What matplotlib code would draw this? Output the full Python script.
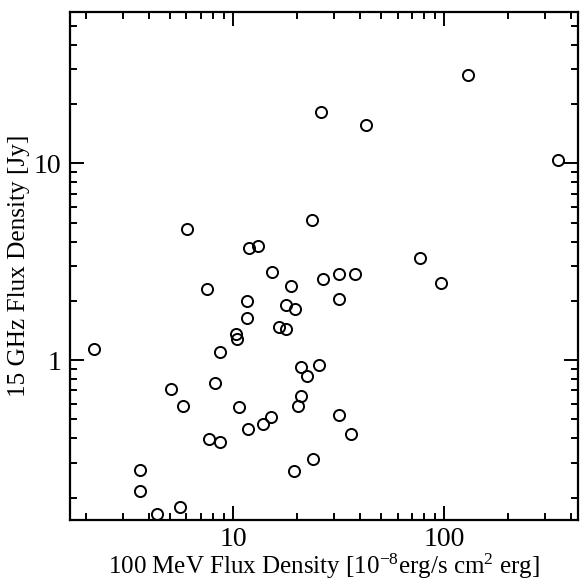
import matplotlib
matplotlib.use("agg")
import matplotlib.pyplot as plt
import matplotlib.ticker as ticker

plt.rcParams["font.family"] = ["Liberation Serif", "DejaVu Serif"]
plt.rcParams["mathtext.fontset"] = "custom"
plt.rcParams["mathtext.rm"] = "Liberation Serif"
plt.rcParams["mathtext.it"] = "Liberation Serif:italic"

# 100 MeV flux density (1e-8 erg/s cm^2 erg)
gamma_flux = [2.19, 6.05, 11.87, 13.14, 15.2, 7.53, 18.71, 11.65, 11.57, 10.30,
              10.44, 8.65, 5.05, 5.80, 8.19, 10.64, 13.78, 15.04, 11.78, 7.70,
              8.65, 3.60, 3.63, 4.35, 5.60, 19.40, 17.83, 19.50, 16.50, 17.83,
              20.86, 22.28, 20.82, 20.26, 25.53, 31.6, 36.0, 23.86, 31.8, 26.7,
              96.1, 76.7, 31.8, 37.6, 23.5, 25.96, 42.6, 129.9, 345.0]

# 15 GHz flux density (Jy)
radio_flux = [1.137, 4.65, 3.70, 3.81, 2.81, 2.30, 2.39, 2.00, 1.64, 1.356,
              1.274, 1.098, 0.710, 0.586, 0.764, 0.579, 0.473, 0.511, 0.446, 0.398,
              0.385, 0.277, 0.216, 0.164, 0.1785, 0.2727, 1.904, 1.81, 1.477, 1.432,
              0.925, 0.832, 0.658, 0.586, 0.943, 0.527, 0.420, 0.315, 2.04, 2.575,
              2.477, 3.31, 2.743, 2.743, 5.15, 18.3, 15.6, 28.1, 10.39]

fig = plt.figure(figsize=(5.8, 5.81), dpi=100, facecolor="white")
ax = fig.add_axes([70 / 580, 61 / 581, 508 / 580, 508 / 581])

ax.plot(gamma_flux, radio_flux, linestyle="none", marker="o", markersize=8,
        markerfacecolor="none", markeredgecolor="black", markeredgewidth=1.4)

ax.set_xscale("log")
ax.set_yscale("log")
ax.set_xlim(1.683, 430)
ax.set_ylim(0.1537, 58.8)

fmt = ticker.FuncFormatter(lambda v, pos: "%g" % v)
for axis in (ax.xaxis, ax.yaxis):
    axis.set_major_formatter(fmt)
    axis.set_minor_formatter(ticker.NullFormatter())

ax.tick_params(which="both", direction="in", top=True, right=True,
               width=1.4, labelsize=20, pad=6)
ax.tick_params(axis="x", pad=5)
ax.tick_params(which="major", length=10)
ax.tick_params(which="minor", length=5)

for spine in ax.spines.values():
    spine.set_linewidth(1.6)

ax.set_xlabel(r"100 MeV Flux Density [10$^{-8}$erg/s cm$^{2}$ erg]", fontsize=18)
ax.xaxis.set_label_coords(0.5, -0.063)
ax.set_ylabel("15 GHz Flux Density [Jy]", fontsize=18.2, labelpad=3)

fig.savefig("out.png", dpi=100)
